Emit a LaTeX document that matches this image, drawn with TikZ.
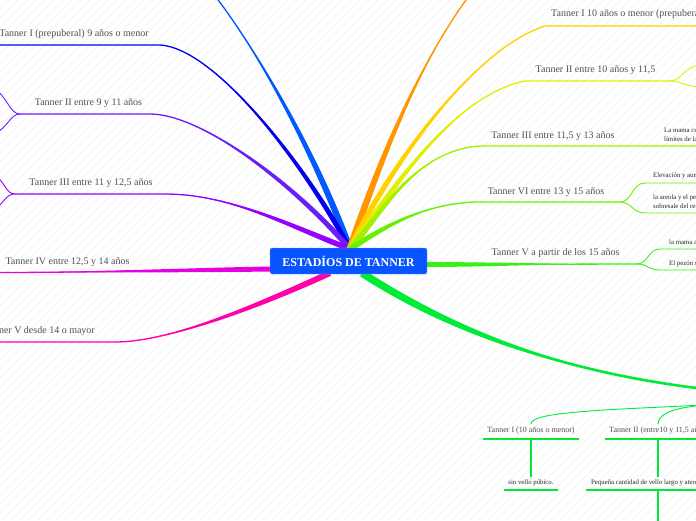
\documentclass[tikz,border=0pt]{standalone}
\usepackage{fontspec}
\setmainfont{Liberation Serif}
\usetikzlibrary{calc,backgrounds}
\definecolor{rootblue}{RGB}{8,84,255}
\definecolor{labelgray}{RGB}{80,80,80}
\definecolor{cTop}{RGB}{0,90,255}
\definecolor{cIl}{RGB}{5,0,235}
\definecolor{cIIl}{RGB}{105,30,250}
\definecolor{cIIIl}{RGB}{150,0,255}
\definecolor{cIVl}{RGB}{230,0,225}
\definecolor{cVl}{RGB}{255,0,170}
\definecolor{cOr}{RGB}{255,150,0}
\definecolor{cIr}{RGB}{255,210,0}
\definecolor{cIIr}{RGB}{225,240,0}
\definecolor{cIIIr}{RGB}{165,240,0}
\definecolor{cVIr}{RGB}{105,240,0}
\definecolor{cVr}{RGB}{55,240,20}
\definecolor{cBot}{RGB}{0,235,55}
% tapered branch: colour, start, control near start, control near end, end, half width
\newcommand\taper[6]{\fill[#1] ($(#2)+#6$) .. controls ($(#3)+#6$) and (#4) .. (#5)
  .. controls (#4) and ($(#3)-#6$) .. ($(#2)-#6$) -- cycle;}

\begin{document}
\begin{tikzpicture}[x=1pt,y=-1pt,
    rootbox/.style={fill=rootblue,draw=rootblue!55!white,rounded corners=2pt,
      minimum width=157pt,minimum height=26pt,inner sep=0pt,text=white,
      font=\bfseries\fontsize{12}{14}\selectfont},
    lbl/.style={text=labelgray,inner sep=0pt,font=\fontsize{10}{12}\selectfont},
    sublbl/.style={text=labelgray,inner sep=0pt,font=\fontsize{8}{10}\selectfont},
    note/.style={text=black!85,inner sep=0pt,align=left,anchor=west,
      font=\fontsize{6.8}{9}\selectfont},
    twig/.style={line width=1.3pt},
    leaf/.style={line width=0.9pt},
    hatch/.style={draw=black!6,line width=0.5pt}]
  \useasboundingbox (0,0) rectangle (696,520);
  \node[rootbox] (root) at (348.5,261) {ESTADÍOS DE TANNER};

  \coordinate (hub) at (350,249);
  % left side
  \coordinate (k0) at (212,-8);
  \coordinate (k1) at (160,45);  \coordinate (e1) at (-5,45);
  \coordinate (k2) at (150,114); \coordinate (f2) at (20,114);
  \coordinate (k3) at (165,194); \coordinate (f3) at (15,194);
  \coordinate (s4) at (272,269); \coordinate (e4) at (-5,272.5);
  \coordinate (s5) at (330,273); \coordinate (k5) at (115,342); \coordinate (e5) at (-5,342);
  % right side
  \coordinate (r0) at (472,-8);
  \coordinate (q1) at (545,26);  \coordinate (g1) at (705,26);
  \coordinate (q2) at (525,81);  \coordinate (h2) at (670,81);
  \coordinate (q3) at (480,146); \coordinate (g3) at (705,146);
  \coordinate (q4) at (475,202); \coordinate (h4) at (620,202);
  \coordinate (s6) at (425,264.5); \coordinate (q6) at (600,264); \coordinate (h6) at (637,264);
  \coordinate (s7) at (362,273); \coordinate (g7) at (705,389);
  \coordinate (bh) at (705,405);

  \begin{scope}[on background layer]
    \clip (0,0) rectangle (696,520);
    \foreach \i in {-520,-511,...,700}
      \draw[hatch] (\i,520) -- ++(520,-520);

    % left branches
    \taper{cTop}{hub}{310,140}{250,40}{k0}{(3.5,0)}
    \draw[cTop,twig] (hub) .. controls (310,140) and (250,40) .. (k0);
    \taper{cIl}{hub}{305,165}{215,48}{k1}{(3,0)}
    \draw[cIl,twig] (hub) .. controls (305,165) and (215,48) .. (k1) -- (e1);
    \taper{cIIl}{hub}{290,180}{200,114}{k2}{(2,-1.7)}
    \draw[cIIl,twig] (hub) .. controls (290,180) and (200,114) .. (k2) -- (f2);
    \draw[cIIl,leaf] (f2) .. controls (10,114) and (8,98) .. (-6,88);
    \draw[cIIl,leaf] (f2) .. controls (10,114) and (8,128) .. (-6,134);
    \taper{cIIIl}{hub}{290,226}{230,194}{k3}{(1.2,-2.5)}
    \draw[cIIIl,twig] (hub) .. controls (290,226) and (230,194) .. (k3) -- (f3);
    \draw[cIIIl,leaf] (f3) .. controls (6,194) and (5,182) .. (-6,174);
    \draw[cIIIl,leaf] (f3) .. controls (6,194) and (5,202) .. (-6,210);
    \taper{cIVl}{s4}{200,270}{80,272.5}{e4}{(0,2.5)}
    \draw[cIVl,twig] (s4) .. controls (200,270) and (80,272.5) .. (e4);
    \taper{cVl}{s5}{260,305}{170,342}{k5}{(1,2.8)}
    \draw[cVl,twig] (s5) .. controls (260,305) and (170,342) .. (k5) -- (e5);

    % right branches
    \taper{cOr}{hub}{380,160}{420,60}{r0}{(3.3,1.1)}
    \draw[cOr,twig] (hub) .. controls (380,160) and (420,60) .. (r0);
    \taper{cIr}{hub}{385,175}{470,50}{q1}{(2.7,1.3)}
    \draw[cIr,twig] (hub) .. controls (385,175) and (470,50) .. (q1) -- (g1);
    \taper{cIIr}{hub}{395,185}{455,95}{q2}{(2.5,1.5)}
    \draw[cIIr,twig] (hub) .. controls (395,185) and (455,95) .. (q2) -- (h2);
    \draw[cIIr,leaf] (h2) .. controls (682,81) and (684,65) .. (705,64);
    \draw[cIIr,leaf] (h2) .. controls (682,81) and (684,87) .. (705,87);
    \taper{cIIIr}{hub}{380,215}{415,150}{q3}{(2.2,2)}
    \draw[cIIIr,twig] (hub) .. controls (380,215) and (415,150) .. (q3) -- (g3);
    \taper{cVIr}{hub}{380,230}{420,204}{q4}{(1.4,2.4)}
    \draw[cVIr,twig] (hub) .. controls (380,230) and (420,204) .. (q4) -- (h4);
    \draw[cVIr,leaf] (h4) .. controls (632,202) and (632,183) .. (645,183) -- (705,183);
    \draw[cVIr,leaf] (h4) .. controls (632,202) and (632,213) .. (645,213) -- (705,213);
    \taper{cVr}{s6}{480,264.5}{560,264}{q6}{(0,2.5)}
    \draw[cVr,twig] (s6) -- (h6);
    \draw[cVr,leaf] (h6) .. controls (648,264) and (648,249) .. (660,249) -- (705,249);
    \draw[cVr,leaf] (h6) .. controls (648,264) and (648,270) .. (660,270) -- (705,270);
    \taper{cBot}{s7}{450,330}{560,372}{g7}{(-2,3.2)}
    \draw[cBot,line width=2.6pt] (s7) .. controls (450,330) and (560,372) .. (g7);
  \end{scope}

  % left labels
  \node[lbl] (l1) at (74,34) {Tanner I (prepuberal) 9 años o menor};
  \node[lbl] (l2) at (88.5,103) {Tanner II entre 9 y 11 años};
  \node[lbl] (l3) at (91,183) {Tanner III entre 11 y 12,5 años};
  \node[lbl] (l4) at (67.5,262) {Tanner IV entre 12,5 y 14 años};
  \node[lbl,anchor=east] (l5) at (95,331) {Tanner V desde 14 o mayor};

  % right labels
  \node[lbl,anchor=west] (r1) at (551,14.5) {Tanner I 10 años o menor (prepuberal)};
  \node[lbl] (r2) at (595.5,70) {Tanner II entre 10 años y 11,5};
  \node[lbl] (r3) at (553,136) {Tanner III entre 11,5 y 13 años};
  \node[lbl] (r4) at (546,192) {Tanner VI entre 13 y 15 años};
  \node[lbl] (r5) at (555.5,253) {Tanner V a partir de los 15 años};
  \node[note] (n3) at (664,134.5) {La mama crece y rebasa los\\límites de la areola};
  \node[note] (n4a) at (653,176) {Elevación y aumento de la mama};
  \node[note] (n4b) at (653,202) {la areola y el pezón forman un relieve que\\sobresale del resto de la mama};
  \node[note] (n6a) at (669,242) {la mama adulta};
  \node[note] (n6b) at (669,264) {El pezón sobresale};

  % bottom subtree
  \node[sublbl] (b1) at (531,431) {Tanner I (10 años o menor)};
  \node[sublbl,anchor=west] (b2) at (609,431) {Tanner II (entre10 y 11,5 años)};
  \node[note,anchor=center] (b3) at (531,483) {sin vello púbico.};
  \node[note] (b4) at (591,483) {Pequeña cantidad de vello largo y aterciopelado};
  \coordinate (v2) at (658,439);
  \begin{scope}[on background layer]
    \clip (0,0) rectangle (696,520);
    \draw[cBot,leaf] (531,424) .. controls (531,412) and (600,410) .. (bh);
    \draw[cBot,leaf] (658,424) .. controls (658,412) and (680,407) .. (bh);
    \draw[cBot,twig] ($(b1.west)+(-4,8)$) -- ($(b1.east)+(4,8)$);
    \draw[cBot,twig] ($(b2.west)+(-4,8)$) -- (705,439);
    \draw[cBot,twig] ($(b1.center)+(0,8)$) -- ($(b3.north)+(0,-3)$);
    \draw[cBot,twig] (v2) -- (658,477);
    \draw[cBot,twig] ($(b3.west)+(-4,7)$) -- ($(b3.east)+(4,7)$);
    \draw[cBot,twig] ($(b4.west)+(-5,7)$) -- (705,490);
    \draw[cBot,twig] (658,490) -- (658,525);
  \end{scope}
\end{tikzpicture}
\end{document}
